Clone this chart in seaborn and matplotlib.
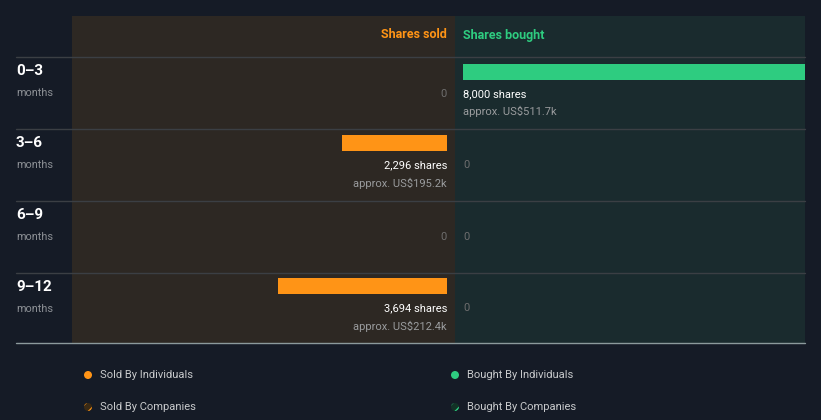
import matplotlib
matplotlib.use("Agg")
import matplotlib.pyplot as plt
import matplotlib.patches as mpatches
import seaborn as sns
import pandas as pd

# ---- data ----
periods = ["0–3", "3–6", "6–9", "9–12"]
period_unit = "months"
sold_shares = [0, 2296, 0, 3694]
sold_usd = ["", "US$195.2k", "", "US$212.4k"]
bought_shares = [8000, 0, 0, 0]
bought_usd = ["US$511.7k", "", "", ""]
legend_labels = ["Sold By Individuals", "Bought By Individuals",
                 "Sold By Companies", "Bought By Companies"]
header_sold = "Shares sold"
header_bought = "Shares bought"

# ---- style ----
sns.set_theme(style="dark")
plt.rcParams["font.family"] = ["Roboto", "DejaVu Sans"]
plt.rcParams["hatch.linewidth"] = 1.2

BG = "#151b26"
SOLD_BG = "#2d2823"
BOUGHT_BG = "#1a2b2e"
ORANGE = "#ff9416"
GREEN = "#2ecc80"
GRID = "#3b3f44"
W, H = 821, 420

fig = plt.figure(figsize=(W / 100, H / 100), dpi=100, facecolor=BG)


def rect(x0, y0, x1, y1):
    return [x0 / W, 1 - y1 / H, (x1 - x0) / W, (y1 - y0) / H]


# background / overlay axes in pixel coordinates
bg = fig.add_axes([0, 0, 1, 1])
bg.set_xlim(0, W)
bg.set_ylim(H, 0)
bg.axis("off")
bg.add_patch(mpatches.Rectangle((72, 16), 383, 327, color=SOLD_BG, lw=0))
bg.add_patch(mpatches.Rectangle((455, 16), 350, 327, color=BOUGHT_BG, lw=0))
for yy in [57, 129, 201, 273]:
    bg.plot([16, 805], [yy, yy], color=GRID, lw=1)
bg.plot([16, 805], [343, 343], color="#8c9a9c", lw=1)

bg.text(447, 35, header_sold, color=ORANGE, fontsize=9, fontweight="bold",
        ha="right", va="center")
bg.text(463, 35, header_bought, color=GREEN, fontsize=9, fontweight="bold",
        ha="left", va="center")

for i, p in enumerate(periods):
    top = 57 + 72 * i
    bg.text(16, top + 14, p, color="white", fontsize=11, fontweight="bold",
            ha="left", va="center")
    bg.text(16, top + 36, period_unit, color="#8d9196", fontsize=7.8,
            ha="left", va="center")

# legend
leg_pos = [(88, 375), (455, 375), (88, 407), (455, 407)]
leg_cols = [ORANGE, GREEN, ORANGE, GREEN]
for k, (lab, (lx, ly), c) in enumerate(zip(legend_labels, leg_pos, leg_cols)):
    if k < 2:
        bg.add_patch(mpatches.Circle((lx, ly), 4, facecolor=c, edgecolor=c, lw=0))
    else:
        bg.add_patch(mpatches.Circle((lx, ly), 4,
                                     facecolor="#3a2a14" if c == ORANGE else "#123226",
                                     edgecolor=c, lw=0, hatch="///"))
    bg.text(lx + 12, ly, lab, color="#c8cacc", fontsize=8, ha="left", va="center")

# bar axes
YLIM = (3 + 57 / 72, -15 / 72)
BAR_W = 16 / 72
MAXV = max(max(sold_shares), max(bought_shares))

df = pd.DataFrame({"period": periods, "sold": sold_shares, "bought": bought_shares})

ax_s = fig.add_axes(rect(80, 57, 447, 343))
sns.barplot(data=df, x="sold", y="period", orient="h", ax=ax_s, color=ORANGE,
            width=BAR_W, saturation=1, linewidth=0)
ax_s.set_xlim(MAXV, 0)
ax_s.set_ylim(*YLIM)

ax_b = fig.add_axes(rect(463, 57, 805, 343))
sns.barplot(data=df, x="bought", y="period", orient="h", ax=ax_b, color=GREEN,
            width=BAR_W, saturation=1, linewidth=0)
ax_b.set_xlim(0, MAXV)
ax_b.set_ylim(*YLIM)

for ax in (ax_s, ax_b):
    ax.set_facecolor("none")
    ax.axis("off")

for ax, shares, usd, ha in [(ax_s, sold_shares, sold_usd, "right"),
                            (ax_b, bought_shares, bought_usd, "left")]:
    for i, (v, u) in enumerate(zip(shares, usd)):
        if v > 0:
            ax.text(0, i + 22 / 72, f"{v:,} shares", color="white", fontsize=8,
                    ha=ha, va="center")
            ax.text(0, i + 40 / 72, f"approx. {u}", color="#9a9c9e", fontsize=8,
                    ha=ha, va="center")
        else:
            ax.text(0, i + 22 / 72, "0", color="#6e6e6e", fontsize=8,
                    ha=ha, va="center")

fig.savefig("out.png", dpi=100, facecolor=BG)
